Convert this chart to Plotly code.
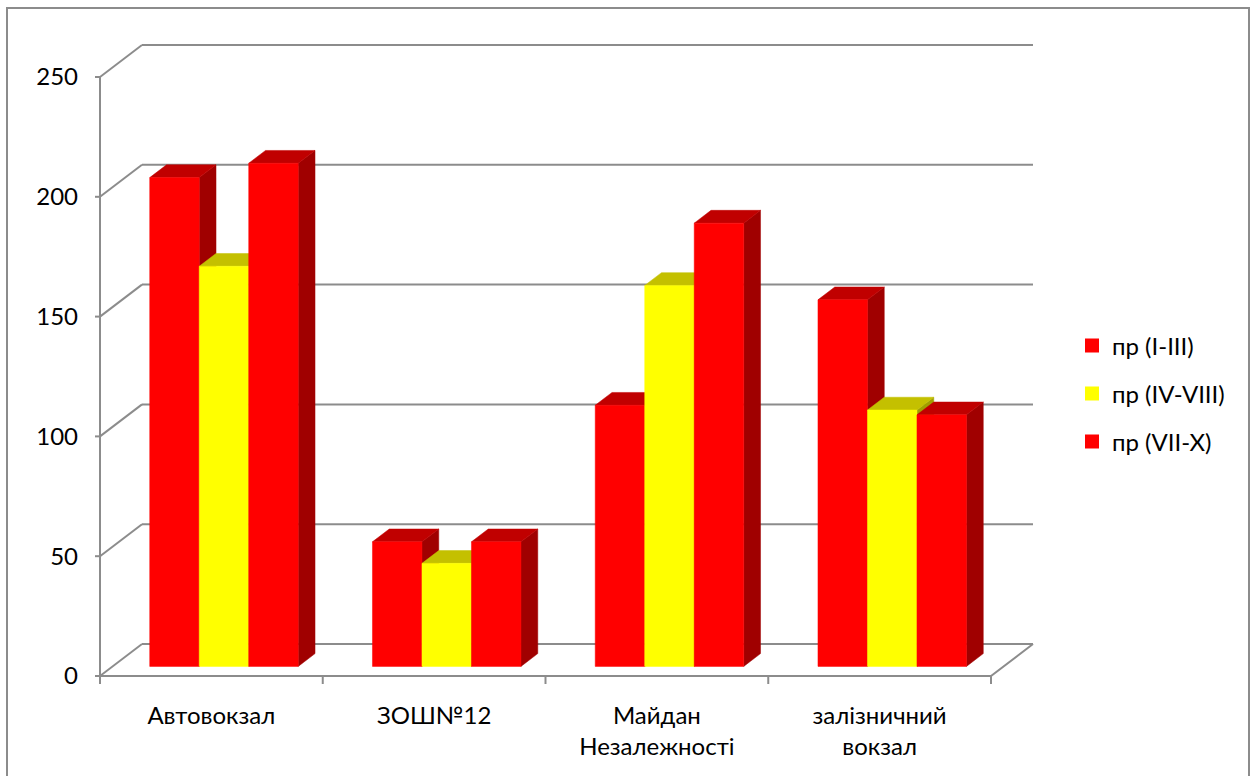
import plotly.graph_objects as go

# ---------------- data ----------------
categories = ["Автовокзал", "ЗОШ№12", "Майдан<br>Незалежності", "залізничний<br>вокзал"]
series_names = ["пр (I-III)", "пр (IV-VIII)", "пр (VII-X)"]
values_i_iii = [204, 52, 109, 153]
values_iv_viii = [167, 43, 159, 107]
values_vii_x = [210, 52, 185, 105]
y_tick_values = [0, 50, 100, 150, 200, 250]

series_values = [values_i_iii, values_iv_viii, values_vii_x]

# ---------------- style ----------------
front_colors = ["#FF0000", "#FFFF00", "#FF0000"]
top_colors = ["#C00000", "#C4C000", "#C00000"]
side_colors = ["#A00000", "#A0A000", "#A00000"]
grid_color = "#8C8C8C"
FONT = "Lato, 'Noto Sans', sans-serif"

# pixel scale of the front plane (layout)
PX_X = 222.75          # px per category
PX_Y = 2.396           # px per value unit
FRONT_X0_PX = 100      # px of category position 0
FRONT_Y0_PX = 676      # px of value 0
W_PX, H_PX = 1250, 776
M_L, M_R, M_T, M_B = 55, 192, 34, 81

plot_w = W_PX - M_L - M_R
plot_h = H_PX - M_T - M_B
x0 = -(FRONT_X0_PX - M_L) / PX_X
x1 = x0 + plot_w / PX_X
y0 = -((H_PX - M_B) - FRONT_Y0_PX) / PX_Y
y1 = y0 + plot_h / PX_Y

# oblique depth (in data units) and bar layout
DEPTH_X = 42 / PX_X
DEPTH_Y = 32 / PX_Y
F0, F1 = 0.3, 0.7
BAR_W = 1 / 4.5
GAP = 1.5 * BAR_W
Y_MAX = y_tick_values[-1]
n_cat = len(categories)

fig = go.Figure()

# ---- walls / gridlines ----
gx, gy = [], []
for v in y_tick_values:
    # back wall gridline
    gx += [DEPTH_X, n_cat + DEPTH_X, None]
    gy += [v + DEPTH_Y, v + DEPTH_Y, None]
    # left wall diagonal
    gx += [0, DEPTH_X, None]
    gy += [v, v + DEPTH_Y, None]
    # y tick mark
    gx += [-5 / PX_X, 0, None]
    gy += [v, v, None]
# front floor edge and right floor diagonal
gx += [0, n_cat, n_cat + DEPTH_X, None]
gy += [0, 0, DEPTH_Y, None]
# front vertical axis
gx += [0, 0, None]
gy += [-2 / PX_Y, Y_MAX, None]
# category tick marks
for k in range(n_cat + 1):
    gx += [k, k, None]
    gy += [0, -8 / PX_Y, None]

fig.add_trace(go.Scatter(x=gx, y=gy, mode="lines",
                         line=dict(color=grid_color, width=2),
                         hoverinfo="skip", showlegend=False))

# ---- 3D bars ----
base = F0 * DEPTH_Y
bdx = (F1 - F0) * DEPTH_X
bdy = (F1 - F0) * DEPTH_Y
for i in range(n_cat):
    for j in range(len(series_values)):
        v = series_values[j][i]
        L = i + GAP / 2 + j * BAR_W + F0 * DEPTH_X
        R = L + BAR_W
        b = base
        t = base + v
        faces = [
            ([R, R + bdx, R + bdx, R, R], [b, b + bdy, t + bdy, t, b], side_colors[j]),
            ([L, R, R + bdx, L + bdx, L], [t, t, t + bdy, t + bdy, t], top_colors[j]),
            ([L, R, R, L, L], [b, b, t, t, b], front_colors[j]),
        ]
        for fx, fy, c in faces:
            fig.add_trace(go.Scatter(x=fx, y=fy, mode="lines", fill="toself",
                                     fillcolor=c, line=dict(color=c, width=0.5),
                                     hoverinfo="skip", showlegend=False))

# ---- legend entries ----
legend_names = ["legend", "legend2", "legend3"]
legend_rows_px = [346, 394, 442]
for j, name in enumerate(series_names):
    fig.add_trace(go.Scatter(x=[None], y=[None], mode="markers", name=name,
                             marker=dict(symbol="square", size=14, color=front_colors[j]),
                             legend=legend_names[j], showlegend=True))

legend_x = (1072 - M_L) / plot_w
leg_layout = {}
for j, ln in enumerate(legend_names):
    leg_layout[ln] = dict(x=legend_x, xanchor="left",
                          y=((H_PX - M_B) - legend_rows_px[j]) / plot_h, yanchor="middle",
                          font=dict(family=FONT, size=24, color="#000000"),
                          bgcolor="rgba(0,0,0,0)", borderwidth=0)

fig.update_layout(
    width=W_PX, height=H_PX, autosize=False,
    margin=dict(l=M_L, r=M_R, t=M_T, b=M_B, pad=0),
    paper_bgcolor="white", plot_bgcolor="white",
    font=dict(family=FONT, size=24, color="#000000"),
    xaxis=dict(range=[x0, x1], showgrid=False, zeroline=False, showline=False,
               tickmode="array", tickvals=[k + 0.5 for k in range(n_cat)],
               ticktext=categories, ticks="", ticklabelstandoff=4,
               tickfont=dict(family=FONT, size=24)),
    yaxis=dict(range=[y0, y1], showgrid=False, zeroline=False, showline=False,
               anchor="free", position=(FRONT_X0_PX - M_L) / plot_w, side="left",
               tickmode="array", tickvals=y_tick_values, ticks="",
               ticklabelstandoff=22, tickfont=dict(family=FONT, size=24)),
    shapes=[dict(type="rect", xref="paper", yref="paper",
                 x0=(7 - M_L) / plot_w, x1=(1249 - M_L) / plot_w,
                 y0=((H_PX - M_B) - 800) / plot_h, y1=((H_PX - M_B) - 8) / plot_h,
                 line=dict(color="#8C8C8C", width=2), fillcolor="rgba(0,0,0,0)", layer="below")],
    **leg_layout,
)

fig.write_html("out.html")
